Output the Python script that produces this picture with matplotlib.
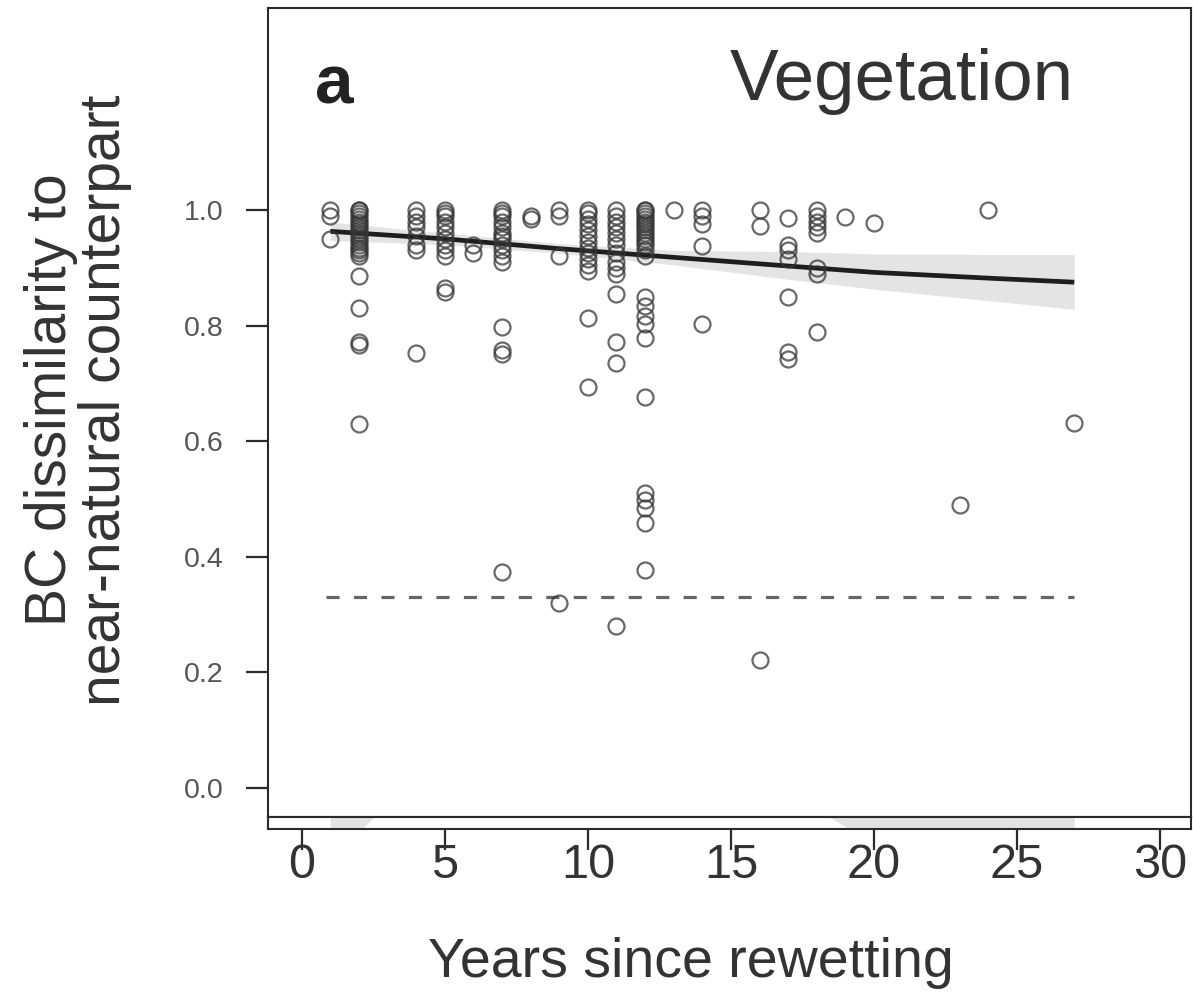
import numpy as np
import matplotlib.pyplot as plt

plt.rcParams['font.family'] = ['Liberation Sans', 'DejaVu Sans']

# --- data ---
# years since rewetting that have at least one site
survey_years = [1, 2, 4, 5, 6, 7, 8, 9, 10, 11, 12, 13, 14, 16, 17, 18, 19, 20, 23, 24, 27]
# BC dissimilarity of each site, grouped by year (same order as survey_years)
bc_values = [
    [1.0, 0.99, 0.95],
    [1.0, 1.0, 0.995, 0.99, 0.985, 0.98, 0.975, 0.97, 0.965, 0.96, 0.955, 0.95,
     0.945, 0.94, 0.935, 0.93, 0.925, 0.92, 0.885, 0.83, 0.772, 0.766, 0.63],
    [1.0, 0.99, 0.98, 0.97, 0.955, 0.94, 0.93, 0.753],
    [1.0, 0.995, 0.99, 0.98, 0.97, 0.96, 0.95, 0.94, 0.93, 0.92, 0.865, 0.858],
    [0.94, 0.925],
    [1.0, 0.995, 0.99, 0.98, 0.97, 0.96, 0.955, 0.95, 0.94, 0.93, 0.92, 0.91,
     0.797, 0.757, 0.75, 0.373],
    [0.99, 0.985],
    [1.0, 0.99, 0.92, 0.32],
    [1.0, 0.995, 0.985, 0.975, 0.965, 0.955, 0.945, 0.935, 0.925, 0.915, 0.905,
     0.895, 0.813, 0.693],
    [1.0, 0.99, 0.98, 0.97, 0.96, 0.95, 0.94, 0.925, 0.91, 0.9, 0.89, 0.854,
     0.771, 0.736, 0.28],
    [1.0, 1.0, 0.995, 0.99, 0.985, 0.98, 0.975, 0.97, 0.965, 0.96, 0.955, 0.95,
     0.945, 0.94, 0.93, 0.92, 0.849, 0.833, 0.816, 0.802, 0.779, 0.677, 0.51,
     0.498, 0.485, 0.459, 0.377],
    [1.0],
    [1.0, 0.99, 0.975, 0.937, 0.802],
    [1.0, 0.972, 0.222],
    [0.986, 0.94, 0.93, 0.915, 0.849, 0.755, 0.742],
    [1.0, 0.99, 0.98, 0.97, 0.96, 0.9, 0.89, 0.788],
    [0.987],
    [0.978],
    [0.49],
    [1.0],
    [0.632],
]

# fitted model with confidence band
fit_x = [1, 5, 9, 13, 17, 20, 24, 27]
fit_y = [0.963, 0.950, 0.933, 0.918, 0.903, 0.892, 0.882, 0.875]
fit_lo = [0.947, 0.940, 0.925, 0.905, 0.880, 0.863, 0.843, 0.828]
fit_hi = [0.979, 0.960, 0.942, 0.930, 0.928, 0.924, 0.923, 0.923]

# reference level (dashed)
ref_level = 0.331
ref_span = [0.85, 27]

# lower edge of the band of the panel underneath (only a sliver visible)
strip_x = [1, 2.1, 2.53, 2.96, 18.0, 18.43, 19.15, 27]
strip_lo = [-2.5, 0, 1, 2, 2, 1, 0, -10.9]

xticks = [0, 5, 10, 15, 20, 25, 30]
yticks = [0.0, 0.2, 0.4, 0.6, 0.8, 1.0]

# expand the groups to flat arrays
xs = np.concatenate([[yr] * len(v) for yr, v in zip(survey_years, bc_values)])
ys = np.concatenate(bc_values)

W, H = 1193, 994
fig = plt.figure(figsize=(W / 100, H / 100), dpi=100)

ax = fig.add_axes([268 / W, (H - 817) / H, (1191 - 268) / W, (817 - 8) / H])
strip = fig.add_axes([268 / W, (H - 829) / H, (1191 - 268) / W, 12 / H], sharex=ax)

dark = '#2b2b2b'

# confidence band + fit
ax.fill_between(fit_x, fit_lo, fit_hi, color='#e4e4e4', lw=0, zorder=1)
ax.plot(fit_x, fit_y, color='#1e1e1e', lw=3.4, solid_capstyle='butt', zorder=3)

# dashed reference line
ax.plot(ref_span, [ref_level, ref_level], color='#666666', lw=2.3,
        ls=(0, (4.1, 4.5)), zorder=2)

# points
ax.plot(xs, ys, ls='none', marker='o', ms=11.5, mfc='none', mec='#363636',
        mew=1.6, alpha=0.75, zorder=4)

ax.set_xlim(-1.18, 31.08)
ax.set_ylim(-0.0505, 1.3495)
ax.set_yticks(yticks)
ax.set_yticklabels([f'{v:.1f}' for v in yticks])
ax.tick_params(axis='y', direction='out', length=16, width=1.6, color=dark,
               labelsize=20.5, labelcolor='#555555', pad=16)
ax.tick_params(axis='x', bottom=False, labelbottom=False)
for s in ax.spines.values():
    s.set_color(dark)
    s.set_linewidth(1.5)

ax.text(0.47, 1.185, 'a', fontsize=50, fontweight='bold', color='#222222',
        ha='left', va='baseline')
ax.text(27.0, 1.19, 'Vegetation', fontsize=52.5, color='#333333',
        ha='right', va='baseline')

# sliver of the panel below
strip.fill_between(strip_x, strip_lo, 5, color='#e2e2e2', lw=0)
strip.set_ylim(0, 1)
strip.set_yticks([])
strip.set_xticks(xticks)
strip.set_xticklabels([str(t) for t in xticks])
strip.tick_params(axis='x', direction='out', length=15, width=1.6, color=dark,
                  labelsize=35, labelcolor='#333333', pad=-5)
for s in strip.spines.values():
    s.set_color(dark)
    s.set_linewidth(1.5)

fig.text(691 / W, (H - 977) / H, 'Years since rewetting', fontsize=40,
         color='#333333', ha='center', va='baseline')
fig.text(78 / W, (H - 400) / H, 'BC dissimilarity to\nnear-natural counterpart',
         fontsize=41, color='#333333', rotation=90, ha='center', va='center',
         multialignment='center', linespacing=1.02)

fig.savefig('out.png', dpi=100)
